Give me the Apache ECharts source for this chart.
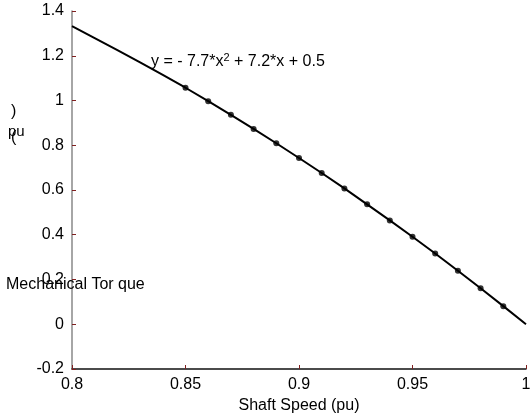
<!DOCTYPE html>
<html>
<head>
<meta charset="utf-8">
<script src="https://cdn.jsdelivr.net/npm/echarts@6/dist/echarts.min.js"></script>
<style>html,body{margin:0;padding:0;background:#fff;}#c{width:530px;height:414px;}</style>
</head>
<body>
<div id="c"></div>
<script>
// Fitted curve
var curveSpeed = [0.80, 0.81, 0.82, 0.83, 0.84, 0.85, 0.86, 0.87, 0.88, 0.89, 0.90, 0.91, 0.92, 0.93, 0.94, 0.95, 0.96, 0.97, 0.98, 0.99, 1.00];
var curveTorque = [1.332, 1.279, 1.225, 1.170, 1.114, 1.057, 0.997, 0.936, 0.873, 0.809, 0.743, 0.676, 0.607, 0.536, 0.464, 0.391, 0.316, 0.239, 0.161, 0.081, 0.0];
// Measured points
var pointSpeed = [0.85, 0.86, 0.87, 0.88, 0.89, 0.90, 0.91, 0.92, 0.93, 0.94, 0.95, 0.96, 0.97, 0.98, 0.99];
var pointTorque = [1.057, 0.997, 0.936, 0.873, 0.809, 0.743, 0.676, 0.607, 0.536, 0.464, 0.391, 0.316, 0.239, 0.161, 0.081];
var xTicks = ['0.8', '0.85', '0.9', '0.95', '1'];
var yTicks = ['-0.2', '0', '0.2', '0.4', '0.6', '0.8', '1', '1.2', '1.4'];
var xTitle = 'Shaft Speed (pu)';
var yTitleMain = 'Mechanical Tor que';
var equation = 'y = - 7.7*x{sup|2} + 7.2*x + 0.5';

var font = 'Arial, "Liberation Sans", sans-serif';
var chart = echarts.init(document.getElementById('c'));
chart.setOption({
  animation: false,
  backgroundColor: '#fff',
  grid: {left: 72, right: 4, top: 11, bottom: 45, containLabel: false, outerBoundsMode: 'none'},
  xAxis: {
    type: 'value', min: 0.8, max: 1.0, interval: 0.05,
    axisLine: {show: true, onZero: false, lineStyle: {color: '#111', width: 1.5}},
    axisTick: {show: true, inside: true, length: 4, lineStyle: {color: '#802020', width: 1}},
    splitLine: {show: false},
    axisLabel: {color: '#000', fontSize: 16, fontFamily: font, margin: 8,
      formatter: function (v) { var s = String(+v.toFixed(2)); return xTicks.indexOf(s) >= 0 ? s : ''; }},
    name: xTitle, nameLocation: 'middle', nameGap: 29,
    nameTextStyle: {color: '#000', fontSize: 16, fontFamily: font}
  },
  yAxis: {
    type: 'value', min: -0.2, max: 1.4, interval: 0.2,
    axisLine: {show: true, onZero: false, lineStyle: {color: '#888', width: 1.5}},
    axisTick: {show: true, inside: true, length: 4, lineStyle: {color: '#802020', width: 1}},
    splitLine: {show: false},
    axisLabel: {color: '#000', fontSize: 16, fontFamily: font, margin: 8,
      formatter: function (v) { var s = String(+v.toFixed(1)); return yTicks.indexOf(s) >= 0 ? s : ''; }}
  },
  series: [
    {
      type: 'line', smooth: false, symbol: 'none',
      data: curveSpeed.map(function (x, i) { return [x, curveTorque[i]]; }),
      lineStyle: {color: '#000', width: 2}, z: 2
    },
    {
      type: 'scatter', symbol: 'circle', symbolSize: 6,
      data: pointSpeed.map(function (x, i) { return [x, pointTorque[i]]; }),
      itemStyle: {color: '#000'}, z: 3
    }
  ],
  graphic: [
    {type: 'text', left: 151, top: 52, z: 10, style: {text: equation, fill: '#000', font: '16px ' + font,
      rich: {sup: {fontSize: 11, verticalAlign: 'top', padding: [0, 0, 9, 0], fill: '#000', fontFamily: font}}}},
    {type: 'text', left: 6, top: 277, z: 10, style: {text: yTitleMain, fill: '#000', font: '16px ' + font}},
    {type: 'text', left: 8, top: 124, z: 10, style: {text: 'pu', fill: '#000', font: '15px ' + font}},
    {type: 'text', left: 11, top: 104, z: 10, style: {text: ')', fill: '#000', font: '16px ' + font}},
    {type: 'text', left: 11, top: 130, z: 10, style: {text: '(', fill: '#000', font: '16px ' + font}}
  ]
});
</script>
</body>
</html>
